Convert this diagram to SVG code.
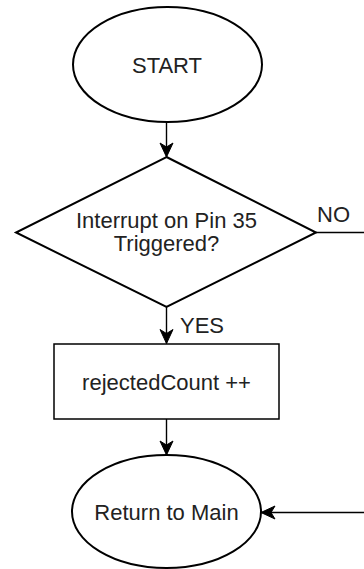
<svg xmlns="http://www.w3.org/2000/svg" width="364" height="569" viewBox="0 0 364 569">
  <style>
    .shape { fill: #ffffff; stroke: #000000; stroke-width: 2; }
    .box { fill: #ffffff; stroke: #000000; stroke-width: 1.5; }
    .label { font-family: "Liberation Sans", Arial, sans-serif; font-size: 22px; fill: #222222; text-anchor: middle; }
    .edge-label { font-family: "Liberation Sans", Arial, sans-serif; font-size: 22px; fill: #222222; }
    .edge { fill: none; stroke: #000000; stroke-width: 1.4; }
  </style>
  <defs>
    <marker id="arrow" markerUnits="userSpaceOnUse" viewBox="-15 -8 16 16" refX="0" refY="0" markerWidth="16" markerHeight="16" orient="auto">
      <path d="M0,0 L-14,-6.5 L-10,0 L-14,6.5 Z" fill="#000000" stroke="#000000" stroke-width="1"/>
    </marker>
  </defs>

  <!-- connectors -->
  <g id="connectors">
    <line class="edge" x1="166.5" y1="122" x2="166.5" y2="157" marker-end="url(#arrow)"/>
    <line class="edge" x1="166.5" y1="307" x2="166.5" y2="343.5" marker-end="url(#arrow)"/>
    <line class="edge" x1="166.5" y1="419" x2="166.5" y2="455" marker-end="url(#arrow)"/>
    <line class="edge" x1="316" y1="232.5" x2="364" y2="232.5"/>
    <line class="edge" x1="364" y1="512.5" x2="261" y2="512.5" marker-end="url(#arrow)"/>
    <text class="edge-label" x="180" y="333">YES</text>
    <text class="edge-label" x="317" y="222">NO</text>
  </g>

  <g id="start">
    <ellipse class="shape" cx="167.5" cy="64.5" rx="94.5" ry="57.5"/>
    <text class="label" x="167" y="73">START</text>
  </g>

  <g id="decision">
    <polygon class="shape" points="166.5,157 316,232.5 166.5,307 16,232.5"/>
    <text class="label" x="166.5" y="228">Interrupt on Pin 35</text>
    <text class="label" x="166.5" y="251">Triggered?</text>
  </g>

  <g id="increment">
    <rect class="box" x="54" y="344" width="225" height="75"/>
    <text class="label" x="166.5" y="390">rejectedCount ++</text>
  </g>

  <g id="return">
    <ellipse class="shape" cx="166.5" cy="511.5" rx="94.5" ry="56.5"/>
    <text class="label" x="166.5" y="520">Return to Main</text>
  </g>
</svg>
